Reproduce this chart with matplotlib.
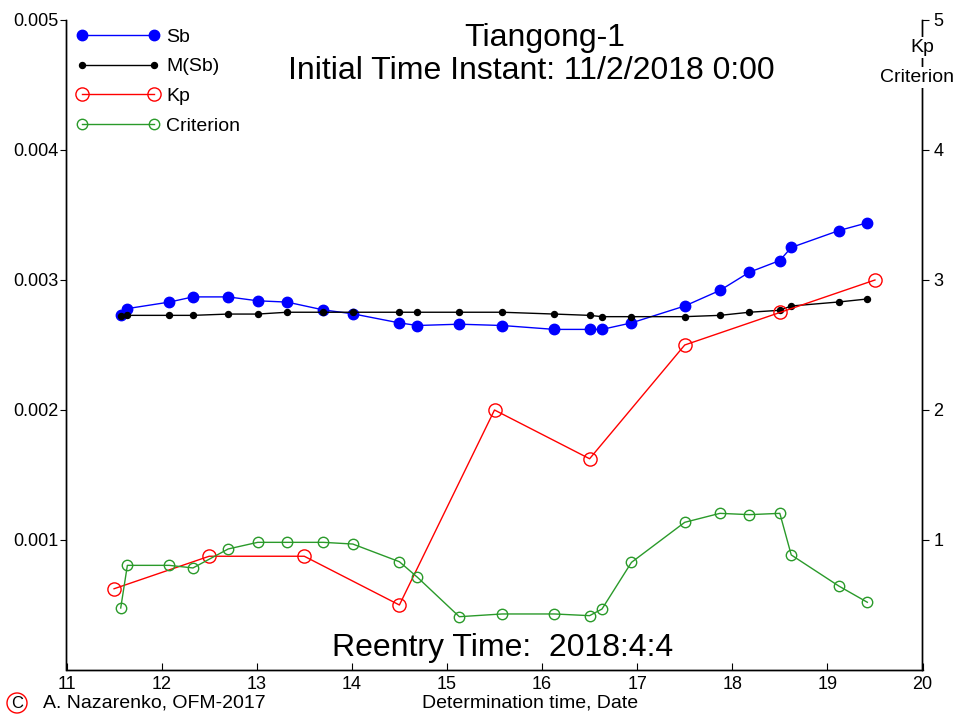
import matplotlib
matplotlib.use("Agg")
import matplotlib.pyplot as plt

plt.rcParams['font.family'] = ['Liberation Sans', 'DejaVu Sans']

# ---- data ----
t_days = [11.57, 11.64, 12.08, 12.33, 12.70, 13.01, 13.32, 13.70, 14.01, 14.50, 14.69, 15.13,
          15.58, 16.13, 16.50, 16.63, 16.94, 17.50, 17.87, 18.18, 18.50, 18.62, 19.12, 19.42]
sb = [2.73, 2.78, 2.83, 2.87, 2.87, 2.84, 2.83, 2.77, 2.74, 2.67, 2.65, 2.66,
      2.65, 2.62, 2.62, 2.62, 2.67, 2.80, 2.92, 3.06, 3.15, 3.25, 3.38, 3.44]
sb = [v * 1e-3 for v in sb]
msb = [2.725, 2.728, 2.728, 2.728, 2.738, 2.738, 2.752, 2.752, 2.752, 2.752, 2.752, 2.752,
       2.752, 2.738, 2.728, 2.718, 2.718, 2.718, 2.728, 2.752, 2.767, 2.800, 2.831, 2.854]
msb = [v * 1e-3 for v in msb]
criterion = [0.477, 0.805, 0.805, 0.785, 0.931, 0.982, 0.982, 0.982, 0.969, 0.833, 0.713, 0.410,
             0.431, 0.431, 0.418, 0.469, 0.828, 1.136, 1.205, 1.195, 1.205, 0.885, 0.646, 0.521]
kp_days = [11.5, 12.5, 13.5, 14.5, 15.5, 16.5, 17.5, 18.5, 19.5]
kp = [0.625, 0.875, 0.875, 0.5, 2.0, 1.625, 2.5, 2.75, 3.0]

x_ticks = [11, 12, 13, 14, 15, 16, 17, 18, 19, 20]
left_ticks = [0.001, 0.002, 0.003, 0.004, 0.005]
left_labels = ['0.001', '0.002', '0.003', '0.004', '0.005']
right_ticks = [1, 2, 3, 4, 5]

GREEN = '#2a9a2a'

fig = plt.figure(figsize=(9.54, 7.16), dpi=100)
ax = fig.add_axes([66.5 / 954, 1 - 670 / 716, (922.5 - 66.5) / 954, 650 / 716])
ax2 = ax.twinx()

l1, = ax.plot(t_days, sb, '-o', color='blue', lw=1.0, ms=7.5, mec='blue', mfc='blue', label='Sb')
l2, = ax.plot(t_days, msb, '-o', color='black', lw=1.0, ms=4.3, label='M(Sb)')
l3, = ax2.plot(kp_days, kp, '-o', color='red', lw=1.0, ms=9.5, mfc='none', mec='red', mew=1.0, label='Kp')
l4, = ax2.plot(t_days, criterion, '-o', color=GREEN, lw=1.0, ms=7.5, mfc='none', mec=GREEN, mew=1.0,
               label='Criterion')

ax.set_xlim(11, 20)
ax.set_ylim(0, 0.005)
ax2.set_ylim(0, 5)

for a in (ax, ax2):
    a.spines['top'].set_visible(False)

ax.set_xticks(x_ticks)
ax.set_xticklabels([str(v) for v in x_ticks])
ax.set_yticks(left_ticks)
ax.set_yticklabels(left_labels)
ax2.set_yticks(right_ticks)
ax2.set_yticklabels([str(v) for v in right_ticks])

ax.tick_params(axis='x', direction='in', length=5, labelsize=13, pad=4)
ax.tick_params(axis='y', direction='out', length=4, labelsize=13, pad=1.5)
ax2.tick_params(axis='y', direction='out', length=5, labelsize=13, pad=3)
for a in (ax, ax2):
    for s in a.spines.values():
        s.set_linewidth(1.0)

leg = ax2.legend(handles=[l1, l2, l3, l4], loc='upper left', frameon=False, numpoints=2,
                 handlelength=4.3, handletextpad=0.35, labelspacing=0.62, fontsize=14,
                 bbox_to_anchor=(-0.0093, 1.0143), borderaxespad=0.5)

ax2.text(1.0, 0.958, 'Kp', transform=ax2.transAxes, ha='center', va='center', fontsize=14,
         bbox=dict(boxstyle='square,pad=0.1', fc='white', ec='none'), zorder=5, clip_on=False)
ax2.text(0.9935, 0.912, 'Criterion', transform=ax2.transAxes, ha='center', va='center', fontsize=14,
         bbox=dict(boxstyle='square,pad=0.1', fc='white', ec='none'), zorder=5, clip_on=False)

fig.text(545 / 954, 1 - 38 / 716, 'Tiangong-1', ha='center', va='center', fontsize=23)
fig.text(531 / 954, 1 - 71 / 716, 'Initial Time Instant: 11/2/2018 0:00', ha='center', va='center',
         fontsize=23)
fig.text(503 / 954, 1 - 648 / 716, 'Reentry Time:  2018:4:4', ha='center', va='center', fontsize=23)

fig.text(43 / 954, 1 - 703 / 716, 'A. Nazarenko, OFM-2017', ha='left', va='center', fontsize=14)
fig.text(530 / 954, 1 - 703 / 716, 'Determination time, Date', ha='center', va='center', fontsize=14)
fig.text(17 / 954, 1 - 703 / 716, 'C', ha='center', va='center', fontsize=12,
         bbox=dict(boxstyle='circle,pad=0.15', fc='white', ec='red', lw=1.0))

fig.savefig('out.png', dpi=100)
